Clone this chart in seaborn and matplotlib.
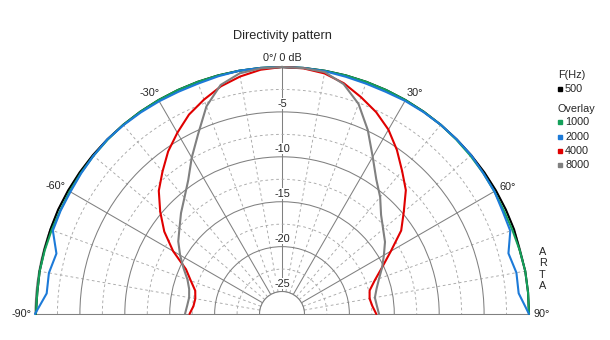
import numpy as np
import pandas as pd
import matplotlib
matplotlib.use("Agg")
import matplotlib.pyplot as plt
from matplotlib.lines import Line2D
import seaborn as sns

# ---------------- data ----------------
angles_deg = [-90, -85, -80, -75, -70, -65, -60, -55, -50, -45, -40, -35, -30,
              -25, -20, -15, -10, -5, 0, 5, 10, 15, 20, 25, 30, 35, 40, 45,
              50, 55, 60, 65, 70, 75, 80, 85, 90]

freq_labels = ["500", "1000", "2000", "4000", "8000"]

db_500 = [-0.1, -0.15, -0.1, -0.1, -0.05, 0.0, 0.0, 0.0, 0.0, 0.0, 0.0, 0.0, 0.0,
          0.0, 0.0, 0.0, 0.0, 0.0, 0.0, 0.0, 0.0, 0.0, 0.0, 0.0, 0.0, 0.0, 0.0, 0.0,
          0.0, 0.0, 0.0, 0.0, 0.0, -0.1, 0.0, 0.0, 0.0]

db_1000 = [-0.1, -0.15, -0.1, -0.15, -0.2, -0.25, -0.2, -0.15, -0.1, -0.05, 0.0, 0.0, 0.0,
           0.0, 0.0, 0.0, 0.0, 0.0, 0.0, 0.0, 0.0, 0.0, 0.0, 0.0, 0.0, 0.0, 0.0, -0.05,
           -0.1, -0.15, -0.2, -0.25, -0.2, -0.1, 0.0, 0.0, 0.0]

db_2000 = [0.0, -1.2, -1.15, -1.5, -0.35, -0.3, -0.3, -0.2, -0.1, 0.0, -0.05, -0.1, -0.15,
           -0.2, -0.2, -0.1, 0.0, 0.0, 0.0, 0.0, -0.05, -0.15, -0.2, -0.2, -0.1, -0.05, 0.0, 0.0,
           0.0, -0.15, -0.2, -0.4, -0.45, -1.4, -1.0, -1.05, 0.0]

db_4000 = [-17.2, -17.6, -17.7, -17.5, -16.7, -15.7, -13.5, -11.5, -9.8, -8.1, -6.8, -5.4, -4.2,
           -3.0, -2.1, -1.25, -0.65, -0.2, 0.0, -0.05, -0.3, -0.9, -1.8, -2.7, -3.8, -5.2, -6.7, -8.0,
           -9.8, -11.3, -13.5, -15.2, -16.5, -17.4, -17.6, -17.4, -17.0]

db_8000 = [-16.7, -16.9, -17.0, -16.8, -16.3, -15.4, -14.4, -13.4, -12.6, -11.6, -10.6, -9.3, -7.4,
           -5.4, -2.9, -1.1, -0.3, -0.05, 0.0, -0.02, -0.15, -1.0, -2.6, -4.9, -7.3, -9.2, -10.5, -11.9,
           -12.8, -13.5, -14.4, -15.2, -16.0, -16.6, -17.0, -16.9, -16.7]

series = [db_500, db_1000, db_2000, db_4000, db_8000]
colors = ["#000000", "#14a05a", "#1c7ad8", "#e00000", "#808080"]

ring_major = [-25, -20, -15, -10, -5]
ring_minor = [-22.5, -17.5, -12.5, -7.5, -2.5]
spoke_major = [-90, -60, -30, 0, 30, 60, 90]
spoke_minor = [-80, -70, -50, -40, -20, -10, 10, 20, 40, 50, 70, 80]
ring_labels = ["-5", "-10", "-15", "-20", "-25"]
angle_labels = ["-90°", "-60°", "-30°", "0°/ 0 dB", "30°", "60°", "90°"]

# ---------------- style ----------------
sns.set_style("white")
plt.rcParams["font.family"] = ["Liberation Sans", "DejaVu Sans"]

W, H = 610, 340
cx, cy, R = 282, 314, 247
GRID = "#808080"

fig = plt.figure(figsize=(W / 100, H / 100), dpi=100)
# square axes box; the half-disc wedge is centred vertically inside it
side = 2 * R
box_bottom_px = cy + R / 2  # from top
ax = fig.add_axes([(cx - R) / W, (H - box_bottom_px) / H, side / W, side / H],
                  projection="polar")
ax.set_theta_zero_location("N")
ax.set_theta_direction(-1)
ax.set_thetamin(-90)
ax.set_thetamax(90)

rows = []
for lab, vals in zip(freq_labels, series):
    for a, v in zip(angles_deg, vals):
        rows.append({"theta": np.deg2rad(a), "db": v, "freq": lab})
df = pd.DataFrame(rows)

sns.lineplot(data=df, x="theta", y="db", hue="freq", hue_order=freq_labels,
             palette=colors, sort=False, estimator=None, lw=1.5, legend=False,
             ax=ax, clip_on=False, zorder=4)
ax.set_xlabel("")
ax.set_ylabel("")

# baseline through the central hole
for s_ang in (-90, 90):
    ax.plot([np.deg2rad(s_ang)] * 2, [-27.5, -25], color=GRID, lw=0.75, clip_on=False, zorder=1)

ax.set_ylim(-25, 0)
ax.set_rorigin(-27.5)

ax.set_xticks(np.deg2rad(spoke_major))
ax.set_xticks(np.deg2rad(spoke_minor), minor=True)
ax.set_yticks(ring_major)
ax.set_yticks(ring_minor, minor=True)
ax.set_xticklabels([])
ax.set_yticklabels([])
ax.tick_params(which="both", length=0)
ax.grid(True, which="major", color=GRID, lw=0.75, ls="-")
ax.grid(True, which="minor", color="#a8a8a8", lw=0.65, ls=(0, (3, 3)))
for s in ax.spines.values():
    s.set_color(GRID)
    s.set_linewidth(0.75)

fs = 7.8
for r, lab in zip(ring_major[::-1], ring_labels):
    ax.annotate(lab, xy=(0, r), xytext=(0, 3), textcoords="offset pixels",
                ha="center", va="bottom", fontsize=fs, annotation_clip=False,
                bbox=dict(boxstyle="square,pad=0.05", fc="white", ec="none"), zorder=5)

angle_place = {
    -90: ("right", "center", (-3, 0)),
    -60: ("right", "center", (-3, 4)),
    -30: ("right", "bottom", (1, 2)),
    0: ("center", "bottom", (0, 4)),
    30: ("left", "bottom", (1, 2)),
    60: ("left", "center", (4, 4)),
    90: ("left", "center", (5, 0)),
}
for a, lab in zip(spoke_major, angle_labels):
    ha, va, off = angle_place[a]
    ax.annotate(lab, xy=(np.deg2rad(a), 0), xytext=off, textcoords="offset pixels",
                ha=ha, va=va, fontsize=fs, annotation_clip=False, zorder=5)

def fx(x):
    return x / W

def fy(y):
    return 1 - y / H

fig.text(fx(282.5), fy(36.5), "Directivity pattern", ha="center", va="center", fontsize=9.2)

# legend
fig.text(fx(558), fy(75), "F(Hz)", ha="left", va="center", fontsize=fs)
fig.text(fx(558), fy(109), "Overlay", ha="left", va="center", fontsize=fs)
leg_y = [89, 122, 137, 151, 165]
for lab, c, y in zip(freq_labels, colors, leg_y):
    fig.add_artist(Line2D([fx(560)], [fy(y)], marker="s", ms=3.2, color=c, mec=c,
                          ls="none", transform=fig.transFigure))
    fig.text(fx(565), fy(y), lab, ha="left", va="center", fontsize=fs)

fig.text(fx(542.5), fy(269), "A\nR\nT\nA", ha="center", va="center",
         fontsize=fs, linespacing=1.15)

fig.savefig("out.png", dpi=100)
